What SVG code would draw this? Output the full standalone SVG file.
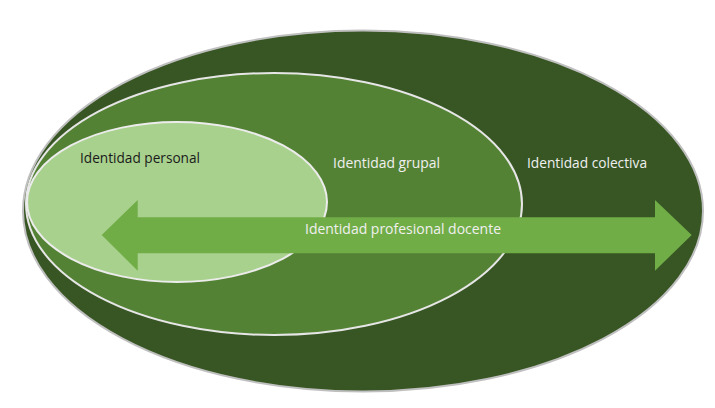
<svg xmlns="http://www.w3.org/2000/svg" width="715" height="408" viewBox="0 0 715 408">
  <style>
    .lbl { font-family: "Open Sans", "Liberation Sans", sans-serif; font-size: 14.6px; }
    .light { fill: #f0f0f0; }
    .dark { fill: #1a1a1a; }
  </style>
  <rect width="715" height="408" fill="#ffffff"/>
  <g id="colectiva">
    <ellipse cx="363" cy="211" rx="340" ry="180.5" fill="#375623" stroke="#bfbfbf" stroke-width="2"/>
    <text class="lbl light" x="527" y="168" textLength="120" lengthAdjust="spacingAndGlyphs">Identidad colectiva</text>
  </g>
  <g id="grupal">
    <ellipse cx="274" cy="204" rx="248" ry="131" fill="#548235" stroke="#e6e6e6" stroke-width="2"/>
    <text class="lbl light" x="333" y="168" textLength="107" lengthAdjust="spacingAndGlyphs">Identidad grupal</text>
  </g>
  <g id="personal">
    <ellipse cx="177" cy="202" rx="150" ry="80" fill="#a9d18e" stroke="#ececec" stroke-width="2"/>
    <text class="lbl dark" x="80" y="163" textLength="120" lengthAdjust="spacingAndGlyphs">Identidad personal</text>
  </g>
  <g id="connectors">
    <g id="profesional-docente">
      <polygon points="101.7,235 137.7,200 137.7,217.3 655,217.3 655,200 691.7,235 655,270.7 655,253.3 137.7,253.3 137.7,270.7" fill="#70ad47"/>
      <text class="lbl light" x="305" y="234" textLength="196" lengthAdjust="spacingAndGlyphs">Identidad profesional docente</text>
    </g>
  </g>
</svg>
